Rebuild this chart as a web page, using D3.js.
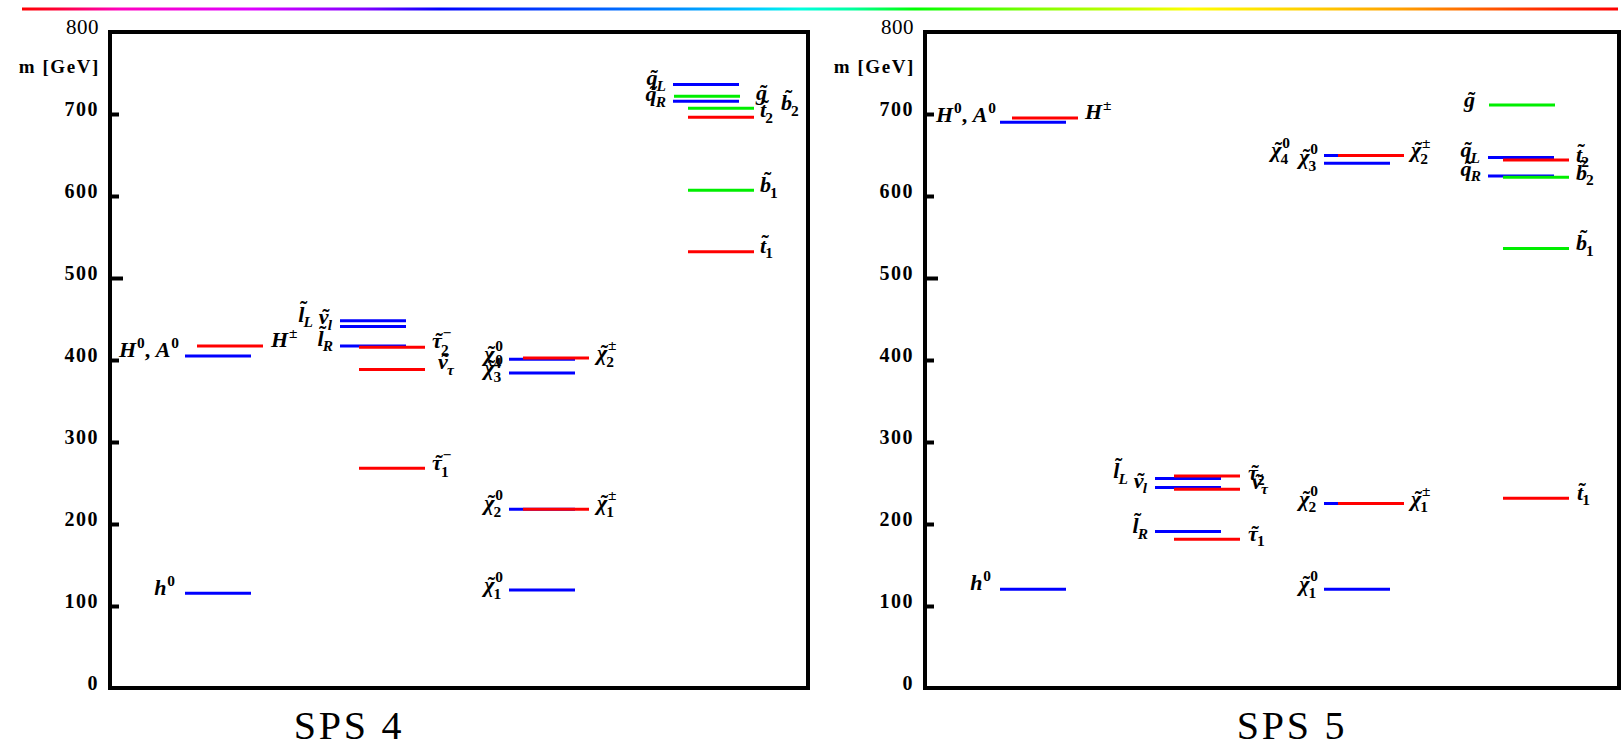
<!DOCTYPE html>
<html><head><meta charset="utf-8">
<script src="https://cdn.jsdelivr.net/npm/d3@7"></script>
<style>body{margin:0;background:#fff;overflow:hidden}</style>
</head><body>
<svg id="c" width="1621" height="748"></svg>
<script>
// ---------------- DATA ----------------
const panelTitles = ["SPS 4", "SPS 5"];
const yTickValues = [0, 100, 200, 300, 400, 500, 600, 700, 800];
const yAxisLabel = "m [GeV]";
// particle group of each level (same order in both panels)
const particleGroups = ["higgsN","higgsN","higgsC","slepton","slepton","slepton","stau","stau","stau",
  "neutralino","neutralino","neutralino","neutralino","chargino","chargino",
  "squark","squark","gluino","sbottom","stop","sbottom","stop"];
const sps4Names = ["h^0","H^0, A^0","H^±","~l_L","~ν_l","~l_R","~τ_2^−","~ν_τ","~τ_1^−",
  "~χ_1^0","~χ_2^0","~χ_3^0","~χ_4^0","~χ_1^±","~χ_2^±",
  "~q_L","~q_R","~g","~b_2","~t_2","~b_1","~t_1"];
const sps4Masses = [115.5, 405, 417, 448, 441, 417, 415.5, 388.5, 268,
  119.5, 218, 384, 401, 218, 402.5,
  736, 715.5, 721.5, 707, 696, 607, 532];
const sps5Names = ["h^0","H^0, A^0","H^±","~l_L","~ν_l","~l_R","~τ_2","~ν_τ","~τ_1",
  "~χ_1^0","~χ_2^0","~χ_3^0","~χ_4^0","~χ_1^±","~χ_2^±",
  "~q_L","~q_R","~g","~b_2","~t_2","~b_1","~t_1"];
const sps5Masses = [120.5, 690, 695, 255.5, 244.5, 191, 258.5, 242.5, 181.5,
  120.5, 225, 640, 649.5, 225, 649.5,
  647, 624.5, 711, 623, 644, 536, 231.5];

// ---------------- LAYOUT / STYLE ----------------
const svg = d3.select("#c");
const serif = "'Liberation Serif', 'Times New Roman', serif";
const frames = [{x0: 110, x1: 808}, {x0: 925, x1: 1619}];
const yTop = 32, yBot = 688;
const y = d3.scaleLinear().domain([0, 800]).range([yBot, yTop]);

const groupColumn = {higgsN:"higgs", higgsC:"higgs", slepton:"slepton", stau:"slepton",
  neutralino:"gaugino", chargino:"gaugino", squark:"squark", gluino:"squark", sbottom:"squark", stop:"squark"};
const groupColor = {higgsN:"#0000ff", higgsC:"#ff0000", slepton:"#0000ff", stau:"#ff0000",
  neutralino:"#0000ff", chargino:"#ff0000", squark:"#0000ff", gluino:"#00ee00", sbottom:"#00ee00", stop:"#ff0000"};
const groupShift = {higgsN:0, higgsC:12, slepton:0, stau:19, neutralino:0, chargino:14,
  squark:0, gluino:1, sbottom:15, stop:15};
const columnX = d3.scaleOrdinal().domain(["higgs","slepton","gaugino","squark"]).range([75, 230, 399, 563]);
const levelLen = 66;
const labelSize = 22;

// label placement: side, gap to line end, vertical nudge
const labelPlace = [
  [["L",10,2],["L",6,1],["R",8,1],["L",27,1],["L",8,-2],["L",7,0],["R",7,1],["R",13,0],["R",7,2],
   ["L",6,2],["L",6,1],["L",6,2],["L",6,2],["R",8,1],["R",8,2],
   ["L",7,1],["L",7,0],["R",16,4],["R",27,2],["R",6,0],["R",6,2],["R",6,1]],
  [["L",9,1],["L",4,0],["R",7,1],["L",27,0],["L",8,0],["L",7,2],["R",8,4],["R",12,0],["R",8,2],
   ["L",6,2],["L",6,2],["L",6,1],["L",34,2],["R",7,2],["R",7,2],
   ["L",8,0],["L",7,0],["L",14,2],["R",7,3],["R",7,2],["R",7,2],["R",8,2]]
];

// ---------- rainbow bar ----------
const defs = svg.append("defs");
const grad = defs.append("linearGradient").attr("id","rainbow")
  .attr("gradientUnits","userSpaceOnUse").attr("x1",22).attr("x2",1618).attr("y1",0).attr("y2",0);
const rbStops = [[22,"#ff0000"],[55,"#ff0030"],[120,"#ff00c0"],[250,"#e000ff"],[366,"#8000ff"],
  [440,"#0000ff"],[575,"#0050ff"],[680,"#0090ff"],[760,"#00d0ff"],[800,"#00ffe0"],[852,"#00ffa0"],
  [915,"#00ff00"],[1035,"#80ff00"],[1140,"#d0ff00"],[1190,"#ffff00"],[1323,"#ffc800"],
  [1401,"#ffa000"],[1480,"#ff6000"],[1558,"#ff2000"],[1618,"#ff0000"]];
rbStops.forEach(s => grad.append("stop").attr("offset", (s[0]-22)/(1618-22)).attr("stop-color", s[1]));
svg.append("line").attr("x1",22).attr("x2",1618).attr("y1",9).attr("y2",9)
  .attr("stroke","url(#rainbow)").attr("stroke-width",3);

// ---------- math label helper ----------
function parseMath(s) {
  const parts = []; let tilde = false;
  for (let i = 0; i < s.length; i++) {
    const c = s[i];
    if (c === "~") { tilde = true; continue; }
    if (c === "_" || c === "^") { parts[parts.length-1][c === "_" ? "sub" : "sup"] = s[i+1]; i++; continue; }
    parts.push({ch: c, tilde}); tilde = false;
  }
  return parts;
}
const isLetter = ch => /[A-Za-z\u0370-\u03FF]/.test(ch);
function drawMath(parent, str, x, yb, anchor, fs) {
  const g = parent.append("g").attr("font-family", serif).attr("font-weight","bold").attr("fill","#000");
  let cx = 0;
  parseMath(str).forEach(p => {
    const t = g.append("text").attr("x", cx).attr("y", 0).attr("font-size", fs)
      .attr("font-style", isLetter(p.ch) ? "italic" : "normal").attr("xml:space","preserve").text(p.ch);
    const w = t.node().getComputedTextLength();
    if (p.tilde) {
      const asc = "lbdhk".includes(p.ch) ? 0.24 : (p.ch === "t" ? 0.12 : 0);
      g.append("text").attr("x", cx + w/2 + fs*0.1).attr("y", -fs*asc).attr("font-size", fs)
        .attr("text-anchor","middle").text("\u02DC");
    }
    const sx = cx + w; const ss = fs*0.7; let sw = 0;
    if (p.sup) {
      const st = g.append("text").attr("x", sx + fs*0.04).attr("y", -fs*(p.sub ? 0.45 : 0.42))
        .attr("font-size", ss).attr("font-style", isLetter(p.sup) ? "italic" : "normal").text(p.sup);
      sw = Math.max(sw, st.node().getComputedTextLength() + fs*0.04);
    }
    if (p.sub) {
      const off = isLetter(p.ch) ? -fs*0.04 : 0;
      const st = g.append("text").attr("x", sx + off).attr("y", fs*(p.sup ? 0.3 : 0.24))
        .attr("font-size", ss).attr("font-style", isLetter(p.sub) ? "italic" : "normal").text(p.sub);
      sw = Math.max(sw, st.node().getComputedTextLength() + off);
    }
    cx = sx + sw;
  });
  g.attr("transform", `translate(${anchor === "end" ? x - cx : x},${yb})`);
}

// ---------- panels ----------
const panelData = [
  {names: sps4Names, masses: sps4Masses},
  {names: sps5Names, masses: sps5Masses}
];
const titleX = [348, 1291];

panelData.forEach((pd, pi) => {
  const f = frames[pi];
  const g = svg.append("g");

  // axis (ticks inside, labels outside)
  const axis = d3.axisLeft(y).tickValues(yTickValues).tickSize(-9).tickPadding(11).tickFormat(d3.format("d"));
  const ag = g.append("g").attr("transform", `translate(${f.x0},0)`).call(axis);
  ag.select(".domain").remove();
  ag.selectAll(".tick line").attr("stroke","#000").attr("stroke-width",4)
    .attr("x2", d => d === 500 ? 13 : 9)
    .attr("display", d => (d === 0 || d === 800) ? "none" : null);
  ag.selectAll(".tick text").attr("fill","#000").attr("dy","0.06em")
    .attr("font-family", serif).attr("font-size", d => d === 800 ? 21 : 20)
    .attr("font-weight", d => d === 800 ? "normal" : "bold")
    .attr("letter-spacing", d => d === 800 ? 0.5 : 1.5);

  // frame
  g.append("rect").attr("x", f.x0).attr("y", yTop).attr("width", f.x1 - f.x0).attr("height", yBot - yTop)
    .attr("fill","none").attr("stroke","#000").attr("stroke-width",4);

  // y label
  g.append("text").attr("x", f.x0 - 10).attr("y", 73).attr("text-anchor","end")
    .attr("font-family", serif).attr("font-weight","bold").attr("font-size",19)
    .attr("letter-spacing",1.6).text(yAxisLabel);

  // levels
  const levels = pd.masses.map((m, i) => {
    const grp = particleGroups[i];
    const xa = f.x0 + columnX(groupColumn[grp]) + groupShift[grp];
    return {m, grp, name: pd.names[i], xa, xb: xa + levelLen, yy: y(m), place: labelPlace[pi][i]};
  });
  g.append("g").selectAll("line").data(levels).join("line")
    .attr("x1", d => d.xa).attr("x2", d => d.xb).attr("y1", d => d.yy).attr("y2", d => d.yy)
    .attr("stroke", d => groupColor[d.grp]).attr("stroke-width", 3);

  const lg = g.append("g");
  levels.forEach(d => {
    const [side, gap, dy] = d.place;
    if (side === "L") drawMath(lg, d.name, d.xa - gap, d.yy + dy, "end", labelSize);
    else drawMath(lg, d.name, d.xb + gap, d.yy + dy, "start", labelSize);
  });

  // title
  g.append("text").attr("x", titleX[pi] + 1).attr("y", 739).attr("text-anchor","middle")
    .attr("font-family", serif).attr("font-size", 40).attr("letter-spacing", 2.8).text(panelTitles[pi]);
});
</script>
</body></html>
